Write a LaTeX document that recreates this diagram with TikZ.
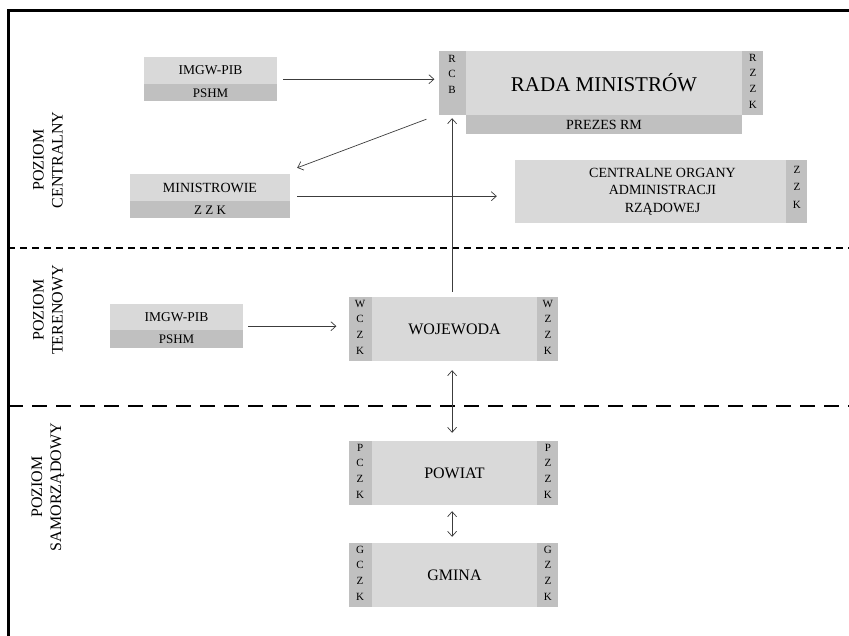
\documentclass[tikz,border=0pt]{standalone}
\usepackage{fontspec}
\setmainfont{Liberation Serif}
\usetikzlibrary{arrows.meta,calc}
\definecolor{jasny}{RGB}{217,217,217}
\definecolor{ciemny}{RGB}{192,192,192}
\definecolor{linia}{RGB}{60,60,60}
\tikzset{
  jasne/.style={fill=jasny,inner sep=0pt},
  ciemne/.style={fill=ciemny,inner sep=0pt},
  litery/.style={anchor=north,align=center,inner sep=0pt,font=\fontsize{11}{15.7}\selectfont},
  strz/.style={draw=linia,line width=0.7pt,-{Straight Barb[length=5pt,width=9pt]}},
  dwustr/.style={draw=linia,line width=0.7pt,{Straight Barb[length=5pt,width=9pt]}-{Straight Barb[length=5pt,width=9pt]}},
  poziom/.style={rotate=90,align=center,font=\fontsize{16}{19}\selectfont}
}
\begin{document}
\begin{tikzpicture}[x=1pt,y=-1pt]
        \useasboundingbox (0,0) rectangle (849,635);
        \draw[line width=3pt] (8,640) -- (8,10) -- (855,10);
        \draw[line width=1.5pt, dash pattern=on 7pt off 5pt] (8,248) -- (849,248);
        \draw[line width=1.5pt, dash pattern=on 15pt off 9pt] (8,406) -- (849,406);
        % poziomy
        \node[poziom] (pc) at (48,160) {POZIOM\\CENTRALNY};
        \node[poziom] (pt) at (48,310) {POZIOM\\TERENOWY};
        \node[poziom] (ps) at (48,487) {POZIOM\\SAMORZĄDOWY};
        % poziom centralny
        \node[jasne, minimum width=133pt, minimum height=27pt, font=\fontsize{13.5}{15}\selectfont] (imgwA) at (210.5,70.5) {IMGW-PIB};
        \node[ciemne, minimum width=133pt, minimum height=17pt, font=\fontsize{13}{14}\selectfont, anchor=north] (pshmA) at (imgwA.south) {PSHM};
        \node[jasne, minimum width=276pt, minimum height=64pt, font=\fontsize{21}{24}\selectfont] (rada) at (604,83) {RADA MINISTRÓW};
        \node[ciemne, minimum width=27pt, minimum height=64pt, anchor=east] (rcb) at (rada.west) {};
        \node[ciemne, minimum width=21pt, minimum height=64pt, anchor=west] (rzzk) at (rada.east) {};
        \node[ciemne, minimum width=276pt, minimum height=19pt, anchor=north, font=\fontsize{14}{16}\selectfont] (prezes) at (rada.south) {PREZES RM};
        \node[litery] (rcbT) at ([yshift=-4pt]rcb.north) {R\\C\\B};
        \node[litery] (rzzkT) at ([yshift=-3pt]rzzk.north) {R\\Z\\Z\\K};
        \node[jasne, minimum width=160pt, minimum height=27pt, font=\fontsize{14}{15}\selectfont] (min) at (210,187.5) {MINISTROWIE};
        \node[ciemne, minimum width=160pt, minimum height=17pt, font=\fontsize{13}{14}\selectfont, anchor=north] (minzzk) at (min.south) {Z Z K};
        \node[jasne, minimum width=271pt, minimum height=63pt] (cor) at (650.5,191.5) {};
        \node[align=center, inner sep=0pt, font=\fontsize{14}{17.5}\selectfont] (corT) at ([xshift=12pt]cor.center) {CENTRALNE ORGANY\\ADMINISTRACJI\\RZĄDOWEJ};
        \node[ciemne, minimum width=21pt, minimum height=63pt, anchor=west] (corz) at (cor.east) {};
        \node[litery, font=\fontsize{11}{17.5}\selectfont] (corzT) at ([yshift=-6pt]corz.north) {Z\\Z\\K};
        % poziom terenowy
        \node[jasne, minimum width=133pt, minimum height=26pt, font=\fontsize{13.5}{15}\selectfont] (imgwB) at (176.5,317) {IMGW-PIB};
        \node[ciemne, minimum width=133pt, minimum height=18pt, font=\fontsize{13}{14}\selectfont, anchor=north] (pshmB) at (imgwB.south) {PSHM};
        \node[jasne, minimum width=165pt, minimum height=64pt, font=\fontsize{16}{18}\selectfont] (woj) at (454.5,329) {WOJEWODA};
        \node[ciemne, minimum width=23pt, minimum height=64pt, anchor=east] (wcz) at (woj.west) {};
        \node[ciemne, minimum width=21pt, minimum height=64pt, anchor=west] (wzz) at (woj.east) {};
        \node[litery] (wczT) at ([yshift=-3pt]wcz.north) {W\\C\\Z\\K};
        \node[litery] (wzzT) at ([yshift=-3pt]wzz.north) {W\\Z\\Z\\K};
        % poziom samorzadowy
        \node[jasne, minimum width=165pt, minimum height=64pt, font=\fontsize{16}{18}\selectfont] (pow) at (454.5,473) {POWIAT};
        \node[ciemne, minimum width=23pt, minimum height=64pt, anchor=east] (pcz) at (pow.west) {};
        \node[ciemne, minimum width=21pt, minimum height=64pt, anchor=west] (pzz) at (pow.east) {};
        \node[litery] (pczT) at ([yshift=-3pt]pcz.north) {P\\C\\Z\\K};
        \node[litery] (pzzT) at ([yshift=-3pt]pzz.north) {P\\Z\\Z\\K};
        \node[jasne, minimum width=165pt, minimum height=64pt, font=\fontsize{16}{18}\selectfont] (gmi) at (454.5,575) {GMINA};
        \node[ciemne, minimum width=23pt, minimum height=64pt, anchor=east] (gcz) at (gmi.west) {};
        \node[ciemne, minimum width=21pt, minimum height=64pt, anchor=west] (gzz) at (gmi.east) {};
        \node[litery] (gczT) at ([yshift=-3pt]gcz.north) {G\\C\\Z\\K};
        \node[litery] (gzzT) at ([yshift=-3pt]gzz.north) {G\\Z\\Z\\K};
        % strzalki
        \coordinate (a1) at ($(imgwA.north east)!.5!(pshmA.south east)$);
        \draw[strz, shorten <=6pt, shorten >=4pt] (a1) -- (a1 -| rcb.west);
        \draw[strz] ([shift={(-12pt,-4pt)}]rcb.south west) -- ([shift={(7pt,6pt)}]min.north east);
        \coordinate (a2) at ($(min.north east)!.5!(minzzk.south east)$);
        \draw[strz, shorten <=7pt, shorten >=18pt] (a2) -- (a2 -| cor.west);
        \draw[strz, shorten <=5pt, shorten >=3pt] (rcb.south |- woj.north) -- (rcb.south);
        \coordinate (a3) at ($(imgwB.north east)!.5!(pshmB.south east)$);
        \draw[strz, shorten <=5pt, shorten >=12pt] (a3) -- (a3 -| wcz.west);
        \draw[dwustr, shorten <=9pt, shorten >=8pt] (rcb.south |- woj.south) -- (rcb.south |- pow.north);
        \draw[dwustr, shorten <=6pt, shorten >=6pt] (rcb.south |- pow.south) -- (rcb.south |- gmi.north);
    \end{tikzpicture}
\end{document}
